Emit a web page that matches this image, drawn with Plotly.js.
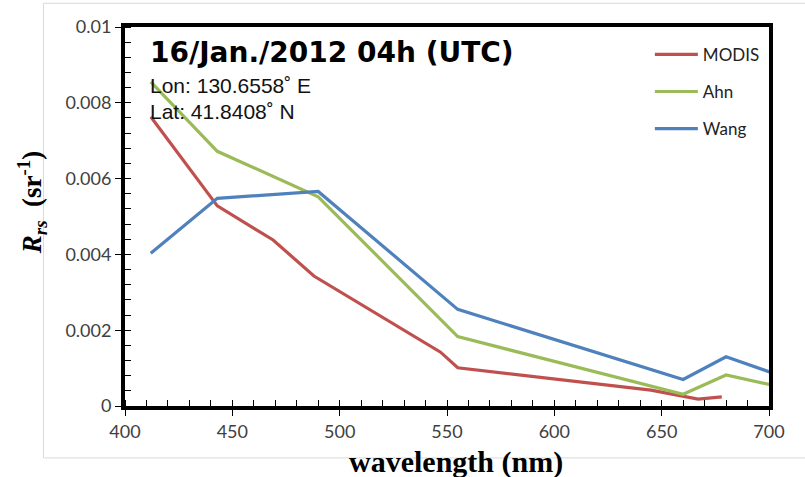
<!DOCTYPE html>
<html>
<head>
<meta charset="utf-8">
<script src="https://cdn.plot.ly/plotly-3.0.1.min.js"></script>
<style>html,body{margin:0;padding:0;background:#fff;}#chart{width:805px;height:477px;}</style>
</head>
<body>
<div id="chart"></div>
<script>
// Data
const modisWavelength = [412, 443, 469, 488, 547, 555, 645, 667, 678];
const modisRrs        = [0.00763, 0.00528, 0.00438, 0.00343, 0.00142, 0.00101, 0.00042, 0.00018, 0.00024];
const ahnWavelength   = [412, 443, 490, 555, 660, 680, 745];
const ahnRrs          = [0.00855, 0.00672, 0.00552, 0.00183, 0.00031, 0.00082, 0.00001];
const wangWavelength  = [412, 443, 490, 555, 660, 680, 745];
const wangRrs         = [0.00403, 0.00548, 0.00566, 0.00255, 0.00070, 0.00130, 0.00001];
const seriesNames     = ["MODIS", "Ahn", "Wang"];
const chartTitle      = "16/Jan./2012 04h (UTC)";
const lonText         = "Lon: 130.6558˚ E";
const latText         = "Lat: 41.8408˚ N";
const xTitle          = "wavelength (nm)";
const yTitle          = "<i>R</i><sub><i>rs</i></sub>  (sr<sup>-1</sup>)";

const colors = ["#C0504D", "#9BBB59", "#4F81BD"];
const xs = [modisWavelength, ahnWavelength, wangWavelength];
const ys = [modisRrs, ahnRrs, wangRrs];

const traces = seriesNames.map((n, i) => ({
  type: "scatter", mode: "lines", name: n, x: xs[i], y: ys[i],
  legendgroup: "g" + i,
  line: {color: colors[i], width: 3.2}
}));

const tickFont = {family: "Lato, 'Open Sans', sans-serif", size: 18, color: "#404040"};
const serif = "'Liberation Serif', 'DejaVu Serif', serif";

const layout = {
  width: 805, height: 477,
  margin: {l: 125, r: 36, t: 27, b: 71},
  paper_bgcolor: "#fff", plot_bgcolor: "#fff",
  showlegend: true,
  legend: {x: 0.815, y: 0.974, xanchor: "left", yanchor: "top",
           font: {family: "Lato, 'Open Sans', sans-serif", size: 17, color: "#222"},
           itemwidth: 43,
           tracegroupgap: 12, bgcolor: "rgba(0,0,0,0)"},
  xaxis: {
    range: [400, 700], dtick: 50, tick0: 400,
    showgrid: false, zeroline: false,
    showline: true, linecolor: "#000", linewidth: 4, mirror: true,
    ticks: "outside", ticklen: 6, tickwidth: 1, tickcolor: "#000",
    minor: {dtick: 10, ticks: "inside", ticklen: 6, tickwidth: 1, tickcolor: "#000", showgrid: false},
    tickfont: tickFont
  },
  yaxis: {
    range: [0, 0.01], dtick: 0.002, tick0: 0,
    showgrid: false, zeroline: false,
    showline: true, linecolor: "#000", linewidth: 4, mirror: true,
    ticks: "outside", ticklen: 6, tickwidth: 1, tickcolor: "#000",
    minor: {dtick: 0.0004, ticks: "inside", ticklen: 6, tickwidth: 1, tickcolor: "#000", showgrid: false},
    tickfont: tickFont
  },
  shapes: [{type: "rect", xref: "paper", yref: "paper",
            x0: -0.1266, x1: 1.12, y0: -0.137, y1: 1.0625,
            line: {color: "#D9D9D9", width: 1}, layer: "below"}],
  annotations: [
    {xref: "paper", yref: "paper", x: 0.036, y: 0.933, xanchor: "left", yanchor: "middle", showarrow: false,
     text: "<b>" + chartTitle + "</b>", font: {family: "'DejaVu Sans', sans-serif", size: 28, color: "#000"}},
    {xref: "paper", yref: "paper", x: 0.036, y: 0.845, xanchor: "left", yanchor: "middle", showarrow: false,
     text: lonText, font: {family: "'Liberation Sans', Arial, sans-serif", size: 21, color: "#111"}},
    {xref: "paper", yref: "paper", x: 0.036, y: 0.777, xanchor: "left", yanchor: "middle", showarrow: false,
     text: latText, font: {family: "'Liberation Sans', Arial, sans-serif", size: 21, color: "#111"}},
    {xref: "paper", yref: "paper", x: 0.514, y: -0.147, xanchor: "center", yanchor: "middle", showarrow: false,
     text: "<b>" + xTitle + "</b>", font: {family: serif, size: 30, color: "#000"}},
    {xref: "paper", yref: "paper", x: -0.1444, y: 0.535, xanchor: "center", yanchor: "middle", showarrow: false,
     textangle: -90,
     text: "<b>" + yTitle + "</b>", font: {family: serif, size: 27, color: "#000"}}
  ]
};

Plotly.newPlot("chart", traces, layout, {staticPlot: true, displayModeBar: false});
</script>
</body>
</html>
